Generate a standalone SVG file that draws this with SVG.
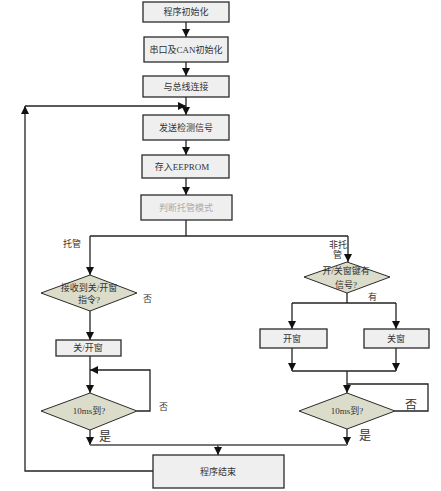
<svg xmlns="http://www.w3.org/2000/svg" width="441" height="491" viewBox="0 0 441 491">
<style>
.box{fill:#efefef;stroke:#2a2a2a;stroke-width:1.3}
.dia{fill:#dcdccb;stroke:#2a2a2a;stroke-width:1}
.t{font-family:"Liberation Serif","Noto Sans CJK SC",serif;font-size:9px;fill:#333;text-anchor:middle;dominant-baseline:central}
.lbl{font-family:"Liberation Serif","Noto Sans CJK SC",serif;font-size:9px;fill:#333;dominant-baseline:central}
.big{font-size:12px}
.ln{fill:none;stroke:#222;stroke-width:1.3}
.gl{fill:none;stroke:#777;stroke-width:2}
</style>
<defs>
<marker id="ah" viewBox="0 0 10 10" refX="10" refY="5" markerWidth="8" markerHeight="8" markerUnits="userSpaceOnUse" orient="auto"><path d="M0,0 L10,5 L0,10 z" fill="#111"/></marker>
</defs>
<rect width="441" height="491" fill="#fff"/>
<g id="connectors">
<path class="ln" d="M186,22 V37" marker-end="url(#ah)"/>
<path class="ln" d="M186,62 V76" marker-end="url(#ah)"/>
<path class="ln" d="M186,97 V115" marker-end="url(#ah)"/>
<path class="ln" d="M186,140 V155" marker-end="url(#ah)"/>
<path class="ln" d="M186,178 V195" marker-end="url(#ah)"/>
<path class="ln" d="M186,220 V236"/>
<path class="ln" d="M90,236 H348"/>
<path class="ln" d="M90,236 V275" marker-end="url(#ah)"/>
<path class="ln" d="M348,236 V262" marker-end="url(#ah)"/>
<path class="ln" d="M90,311 V340" marker-end="url(#ah)"/>
<path class="ln" d="M90,356 V393" marker-end="url(#ah)"/>
<path class="ln" d="M137,411 H150 V370 H90" marker-end="url(#ah)"/>
<path class="ln" d="M90,430 V445" marker-end="url(#ah)"/>
<path class="gl" d="M90,445 H218"/>
<path class="ln" d="M218,445 V455" marker-end="url(#ah)"/>
<path class="ln" d="M347,293 V303"/>
<path class="ln" d="M292,303 H396"/>
<path class="ln" d="M292,303 V329" marker-end="url(#ah)"/>
<path class="ln" d="M396,303 V329" marker-end="url(#ah)"/>
<path class="ln" d="M292,348 V371" marker-end="url(#ah)"/>
<path class="ln" d="M396,348 V371" marker-end="url(#ah)"/>
<path class="ln" d="M292,371 H396"/>
<path class="ln" d="M347,371 V393" marker-end="url(#ah)"/>
<path class="ln" d="M395,411 H428 V384 H347"/>
<path class="ln" d="M347,429 V445" marker-end="url(#ah)"/>
<path class="gl" d="M347,445 H218"/>
<path class="ln" d="M153,471 H25 V106" marker-end="url(#ah)"/>
<path class="ln" d="M25,106 H186" marker-end="url(#ah)"/>
</g>
<g id="n1"><rect class="box" x="143" y="2" width="86" height="20"/><text class="t" x="186" y="12">程序初始化</text></g>
<g id="n2"><rect class="box" x="144" y="37" width="84" height="25"/><text class="t" x="186" y="49.5">串口及CAN初始化</text></g>
<g id="n3"><rect class="box" x="143" y="76" width="86" height="21"/><text class="t" x="186" y="86.5">与总线连接</text></g>
<g id="n4"><rect class="box" x="143" y="115" width="86" height="25"/><text class="t" x="186" y="127.5">发送检测信号</text></g>
<g id="n5"><rect class="box" x="142" y="155" width="87" height="23"/><text class="t" x="182" y="166.5">存入EEPROM</text></g>
<g id="n6"><rect class="box" x="141" y="195" width="91" height="25"/><text class="t" x="186" y="207.5" fill="#999" style="fill:#aaa">判断托管模式</text></g>
<g id="d1"><polygon class="dia" points="90,275 137,293 90,311 41,293"/><text class="t" x="89" y="288">接收到关/开窗</text><text class="t" x="89" y="300">指令?</text></g>
<g id="n7"><rect class="box" x="56" y="340" width="65" height="16"/><text class="t" x="88" y="348">关/开窗</text></g>
<g id="d2"><polygon class="dia" points="90,393 137,411 90,430 41,411"/><text class="t" x="89" y="411">10ms到?</text></g>
<g id="d3"><polygon class="dia" points="347,262 390,277 347,293 304,277"/><text class="t" x="346" y="271">开/关窗键有</text><text class="t" x="346" y="285">信号?</text></g>
<g id="n8"><rect class="box" x="260" y="329" width="67" height="19"/><text class="t" x="292" y="338.5">开窗</text></g>
<g id="n9"><rect class="box" x="364" y="329" width="65" height="19"/><text class="t" x="396" y="338.5">关窗</text></g>
<g id="d4"><polygon class="dia" points="347,393 395,411 347,429 299,411"/><text class="t" x="347" y="411">10ms到?</text></g>
<g id="n10"><rect class="box" x="153" y="455" width="131" height="33"/><text class="t" x="218" y="471.5">程序结束</text></g>
<g id="labels">
<text class="lbl" x="63" y="244">托管</text>
<text class="lbl" x="143" y="299">否</text>
<text class="lbl" x="159" y="407">否</text>
<text class="lbl big" x="99" y="437">是</text>
<text class="lbl" x="329" y="245">非托</text>
<text class="lbl" x="333" y="255">管</text>
<text class="lbl" x="368" y="297">有</text>
<text class="lbl big" x="405" y="405">否</text>
<text class="lbl big" x="359" y="436">是</text>
</g>
</svg>
